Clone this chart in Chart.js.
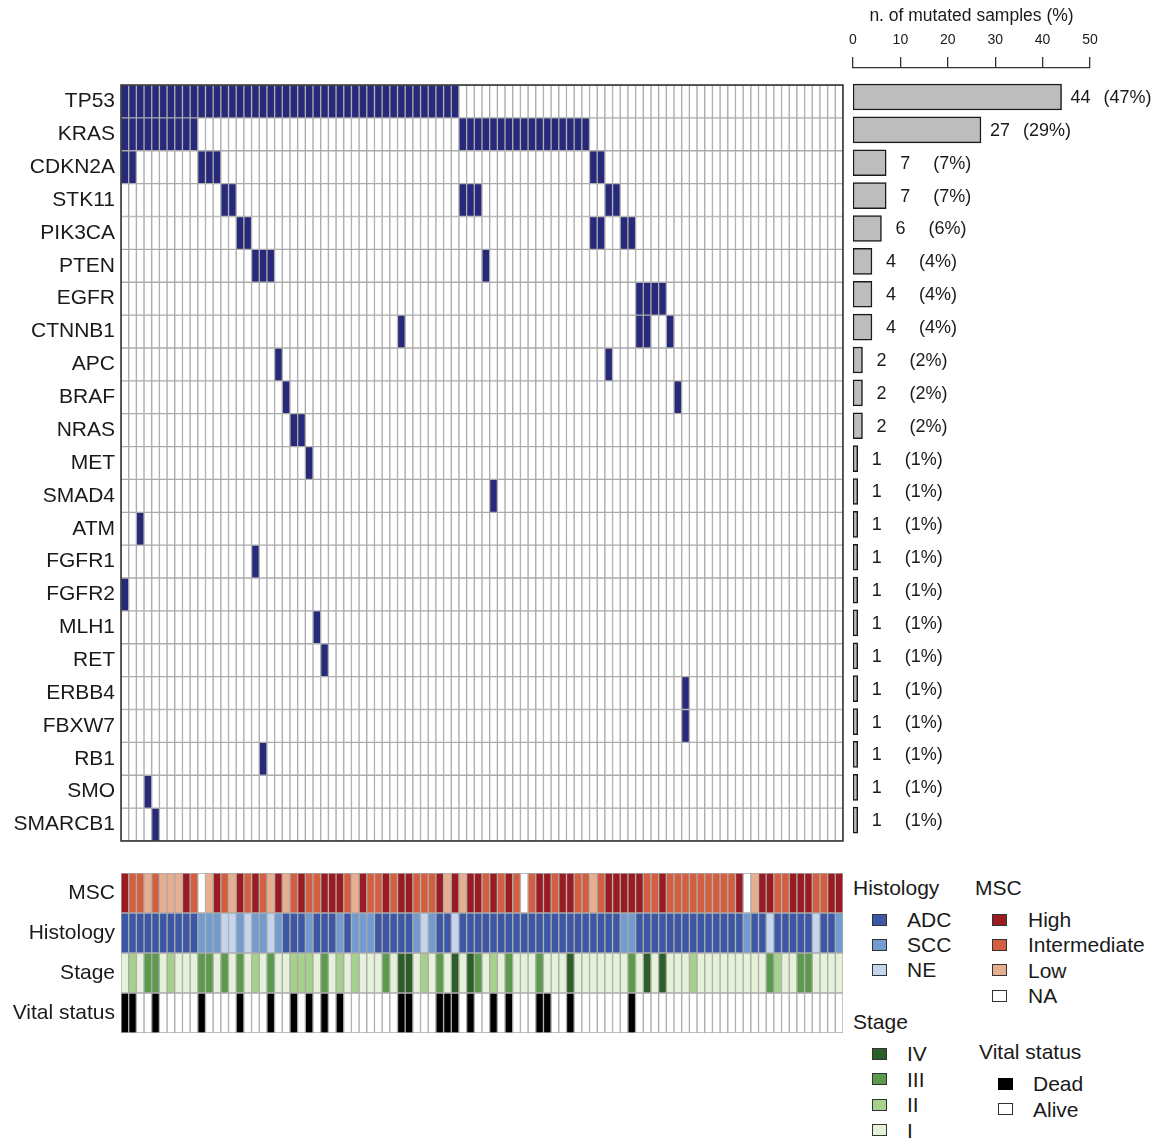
<!DOCTYPE html>
<html>
<head>
<meta charset="utf-8">
<script src="https://cdn.jsdelivr.net/npm/chart.js@4.4.1/dist/chart.umd.min.js"></script>
<style>
  html, body { margin: 0; padding: 0; background: #fff; }
  #page { position: relative; width: 1160px; height: 1140px; overflow: hidden;
          font-family: 'Liberation Sans', Arial, sans-serif; color: #1a1a1a; }
  canvas { position: absolute; }
  .lg-title, .lg-text { position: absolute; font-size: 21px; line-height: 24px; white-space: nowrap; }
  .lg-box { position: absolute; width: 13px; height: 10px; border: 1.5px solid #333; }
</style>
</head>
<body>
<div id="page">
  <canvas id="matrix" width="848" height="766" style="left:0;top:80px"></canvas>
  <canvas id="freqAxis" width="314" height="72" style="left:846px;top:0"></canvas>
  <canvas id="freq" width="314" height="780" style="left:846px;top:70px"></canvas>
  <canvas id="tracks" width="848" height="180" style="left:0;top:860px"></canvas>
  <div id="legend"></div>
</div>
<script>
// ---- data ----
const nSamples = 94;

const genes = ["TP53", "KRAS", "CDKN2A", "STK11", "PIK3CA", "PTEN", "EGFR", "CTNNB1", "APC",
  "BRAF", "NRAS", "MET", "SMAD4", "ATM", "FGFR1", "FGFR2", "MLH1", "RET", "ERBB4", "FBXW7",
  "RB1", "SMO", "SMARCB1"];
const mutatedCounts = [44, 27, 7, 7, 6, 4, 4, 4, 2, 2, 2, 1, 1, 1, 1, 1, 1, 1, 1, 1, 1, 1, 1];
const mutatedPct = [47, 29, 7, 7, 6, 4, 4, 4, 2, 2, 2, 1, 1, 1, 1, 1, 1, 1, 1, 1, 1, 1, 1];

// mutated sample columns (0-based, left to right) for each gene
const mutTP53 = [0, 1, 2, 3, 4, 5, 6, 7, 8, 9, 10, 11, 12, 13, 14, 15, 16, 17, 18, 19, 20, 21,
  22, 23, 24, 25, 26, 27, 28, 29, 30, 31, 32, 33, 34, 35, 36, 37, 38, 39, 40, 41, 42, 43];
const mutKRAS = [0, 1, 2, 3, 4, 5, 6, 7, 8, 9, 44, 45, 46, 47, 48, 49, 50, 51, 52, 53, 54, 55,
  56, 57, 58, 59, 60];
const mutCDKN2A = [0, 1, 10, 11, 12, 61, 62];
const mutSTK11 = [13, 14, 44, 45, 46, 63, 64];
const mutPIK3CA = [15, 16, 61, 62, 65, 66];
const mutPTEN = [17, 18, 19, 47];
const mutEGFR = [67, 68, 69, 70];
const mutCTNNB1 = [36, 67, 68, 71];
const mutAPC = [20, 63];
const mutBRAF = [21, 72];
const mutNRAS = [22, 23];
const mutMET = [24];
const mutSMAD4 = [48];
const mutATM = [2];
const mutFGFR1 = [17];
const mutFGFR2 = [0];
const mutMLH1 = [25];
const mutRET = [26];
const mutERBB4 = [73];
const mutFBXW7 = [73];
const mutRB1 = [18];
const mutSMO = [3];
const mutSMARCB1 = [4];

const mutationRows = [mutTP53, mutKRAS, mutCDKN2A, mutSTK11, mutPIK3CA, mutPTEN, mutEGFR,
  mutCTNNB1, mutAPC, mutBRAF, mutNRAS, mutMET, mutSMAD4, mutATM, mutFGFR1, mutFGFR2, mutMLH1,
  mutRET, mutERBB4, mutFBXW7, mutRB1, mutSMO, mutSMARCB1];

// annotation tracks, one code per sample
const trackNames = ["MSC", "Histology", "Stage", "Vital status"];
const msc = [
  "H", "I", "I", "L", "I", "L", "L", "L", "H", "I",
  "NA", "L", "H", "I", "L", "H", "I", "H", "I", "L",
  "H", "L", "I", "H", "I", "I", "H", "H", "H", "I",
  "L", "H", "I", "I", "H", "I", "H", "H", "I", "I",
  "I", "H", "L", "H", "L", "H", "H", "I", "H", "I",
  "H", "I", "NA", "I", "H", "H", "I", "H", "H", "I",
  "I", "L", "I", "H", "H", "H", "H", "H", "I", "I",
  "H", "I", "I", "I", "I", "I", "I", "I", "I", "I",
  "H", "NA", "L", "H", "H", "I", "I", "H", "H", "H",
  "I", "I", "H", "H"];
const histology = [
  "ADC", "ADC", "ADC", "ADC", "ADC", "ADC", "ADC", "ADC", "ADC", "ADC",
  "SCC", "SCC", "SCC", "NE", "NE", "SCC", "NE", "SCC", "SCC", "NE",
  "SCC", "ADC", "ADC", "ADC", "SCC", "ADC", "ADC", "ADC", "SCC", "ADC",
  "SCC", "SCC", "SCC", "ADC", "ADC", "ADC", "ADC", "ADC", "SCC", "NE",
  "SCC", "ADC", "ADC", "NE", "ADC", "ADC", "ADC", "ADC", "ADC", "ADC",
  "ADC", "ADC", "ADC", "ADC", "ADC", "ADC", "ADC", "ADC", "ADC", "ADC",
  "ADC", "ADC", "ADC", "ADC", "ADC", "SCC", "SCC", "ADC", "ADC", "ADC",
  "ADC", "ADC", "ADC", "ADC", "ADC", "ADC", "ADC", "ADC", "ADC", "ADC",
  "ADC", "SCC", "ADC", "ADC", "NE", "ADC", "ADC", "ADC", "ADC", "ADC",
  "NE", "ADC", "ADC", "SCC"];
const stage = [
  "I", "II", "I", "III", "III", "I", "II", "I", "I", "I",
  "III", "III", "I", "III", "I", "III", "I", "II", "I", "III",
  "I", "I", "II", "II", "II", "I", "III", "I", "II", "I",
  "II", "I", "I", "I", "III", "I", "IV", "IV", "I", "II",
  "I", "III", "I", "IV", "I", "IV", "III", "I", "II", "I",
  "III", "I", "I", "I", "III", "I", "I", "I", "IV", "I",
  "I", "I", "I", "I", "I", "I", "III", "I", "IV", "I",
  "IV", "I", "I", "I", "II", "I", "I", "I", "I", "I",
  "I", "I", "I", "I", "III", "II", "I", "I", "III", "III",
  "I", "I", "I", "I"];
const vital = [
  "D", "D", "A", "A", "D", "A", "A", "A", "A", "A",
  "D", "A", "A", "A", "A", "D", "A", "A", "A", "D",
  "A", "A", "D", "A", "D", "A", "D", "A", "D", "A",
  "A", "A", "A", "A", "A", "A", "D", "D", "A", "A",
  "A", "D", "D", "D", "A", "D", "A", "A", "D", "A",
  "D", "A", "A", "A", "D", "D", "A", "A", "D", "A",
  "A", "A", "A", "A", "A", "A", "D", "A", "A", "A",
  "A", "A", "A", "A", "A", "A", "A", "A", "A", "A",
  "A", "A", "A", "A", "A", "A", "A", "A", "A", "A",
  "A", "A", "A", "A"];

const freqTicks = [0, 10, 20, 30, 40, 50];

// ---- styling ----
const fontStack = "'Liberation Sans', Arial, sans-serif";
Chart.defaults.font.family = fontStack;
Chart.defaults.color = "#1a1a1a";

const MUT_COLOR = "#27297a";
const GRID_COLOR = "#ababab";

const mscLegend = [["H", "High", "#9b1b22"], ["I", "Intermediate", "#d45e40"],
  ["L", "Low", "#e8ae90"], ["NA", "NA", "#ffffff"]];
const histLegend = [["ADC", "ADC", "#3b57a5"], ["SCC", "SCC", "#729bcf"], ["NE", "NE", "#c6d5ee"]];
const stageLegend = [["IV", "IV", "#2c5e27"], ["III", "III", "#5c9b4e"],
  ["II", "II", "#a5d18c"], ["I", "I", "#e5f2d9"]];
const vitalLegend = [["D", "Dead", "#000000"], ["A", "Alive", "#ffffff"]];

const colorOf = (legend) => Object.fromEntries(legend.map((l) => [l[0], l[2]]));

const sampleIds = Array.from({ length: nSamples }, (_, i) => "S" + (i + 1));

// dark frame around the mutation matrix
const framePlugin = {
  id: "frame",
  afterDraw(chart) {
    const { ctx, chartArea: a } = chart;
    ctx.save();
    ctx.strokeStyle = "#2a2a2a";
    ctx.lineWidth = 1.5;
    ctx.strokeRect(a.left, a.top, a.right - a.left, a.bottom - a.top);
    ctx.restore();
  },
};

function rowAxis(names, size) {
  return {
    stacked: true,
    min: 0,
    max: names.length,
    reverse: true,
    afterBuildTicks: (scale) => { scale.ticks = names.map((n, i) => ({ value: i + 0.5 })); },
    afterFit: (scale) => {
      scale.width = 121;
      // labels sit inside the rows, no extra room needed above/below
      scale.paddingTop = 0;
      scale.paddingBottom = 0;
    },
    ticks: { callback: (v, i) => names[i], autoSkip: false, font: { size: size }, color: "#1a1a1a", padding: 6 },
    grid: { display: false, drawTicks: false },
    border: { display: false },
  };
}

function cellDataset(label, colors) {
  return {
    label: label,
    data: sampleIds.map(() => 1),
    backgroundColor: colors,
    borderColor: GRID_COLOR,
    borderWidth: 1,
    borderSkipped: false,
    barPercentage: 1,
    categoryPercentage: 1,
  };
}

// ---- mutation matrix ----
new Chart(document.getElementById("matrix"), {
  type: "bar",
  data: {
    labels: sampleIds,
    datasets: genes.map((g, gi) =>
      cellDataset(g, sampleIds.map((_, si) => (mutationRows[gi].includes(si) ? MUT_COLOR : "#ffffff")))),
  },
  options: {
    responsive: false,
    animation: false,
    layout: { padding: { top: 5, right: 5, bottom: 5, left: 0 } },
    plugins: { legend: { display: false }, tooltip: { enabled: false } },
    scales: {
      x: { stacked: true, display: false },
      y: rowAxis(genes, 21),
    },
  },
  plugins: [framePlugin],
});

// ---- annotation tracks ----
const trackValues = [msc, histology, stage, vital];
const trackColors = [colorOf(mscLegend), colorOf(histLegend), colorOf(stageLegend), colorOf(vitalLegend)];

new Chart(document.getElementById("tracks"), {
  type: "bar",
  data: {
    labels: sampleIds,
    datasets: trackNames.map((t, ti) => cellDataset(t, trackValues[ti].map((v) => trackColors[ti][v]))),
  },
  options: {
    responsive: false,
    animation: false,
    layout: { padding: { top: 13, right: 5, bottom: 7, left: 0 } },
    plugins: { legend: { display: false }, tooltip: { enabled: false } },
    scales: {
      x: { stacked: true, display: false },
      y: rowAxis(trackNames, 21),
    },
  },
});

// ---- mutation frequency: top axis ----
const freqX = {
  type: "linear",
  offset: false,
  min: freqTicks[0],
  max: freqTicks[freqTicks.length - 1],
};

new Chart(document.getElementById("freqAxis"), {
  type: "scatter",
  data: { datasets: [{ data: [] }] },
  options: {
    responsive: false,
    animation: false,
    layout: { padding: { top: 0, left: 7, right: 70, bottom: 2 } },
    plugins: {
      legend: { display: false },
      tooltip: { enabled: false },
      title: {
        display: true,
        text: "n. of mutated samples (%)",
        font: { size: 17.5, weight: "normal" },
        color: "#1a1a1a",
        padding: { top: 6, bottom: 3 },
      },
    },
    scales: {
      x: {
        ...freqX,
        position: "top",
        afterBuildTicks: (scale) => { scale.ticks = freqTicks.map((v) => ({ value: v })); },
        afterFit: (scale) => {
          scale.height = 68 - 30;
          scale.paddingLeft = 0;
          scale.paddingRight = 0;
        },
        ticks: { font: { size: 14 }, color: "#1a1a1a", padding: 8 },
        grid: { offset: false, drawOnChartArea: false, drawTicks: true, tickLength: 11, color: "#333", lineWidth: 1.3 },
        border: { display: true, color: "#333", width: 1.3 },
      },
      y: { display: false },
    },
  },
});

// ---- mutation frequency: bars ----
const barLabelPlugin = {
  id: "barLabels",
  afterDatasetsDraw(chart) {
    const { ctx } = chart;
    const meta = chart.getDatasetMeta(0);
    ctx.save();
    ctx.font = "18px " + fontStack;
    ctx.fillStyle = "#1a1a1a";
    ctx.textAlign = "center";
    ctx.textBaseline = "middle";
    meta.data.forEach((bar, i) => {
      ctx.fillText(String(mutatedCounts[i]), bar.x + 19, bar.y + 1);
      ctx.fillText("(" + mutatedPct[i] + "%)", bar.x + 66, bar.y + 1);
    });
    ctx.restore();
  },
};

new Chart(document.getElementById("freq"), {
  type: "bar",
  data: {
    labels: genes,
    datasets: [{
      data: mutatedCounts,
      backgroundColor: "#bdbdbd",
      borderColor: "#1a1a1a",
      borderWidth: 1.5,
      borderSkipped: false,
      barThickness: 26,
    }],
  },
  options: {
    responsive: false,
    animation: false,
    indexAxis: "y",
    layout: { padding: { top: 10.6, left: 7, right: 70, bottom: 13.4 } },
    plugins: { legend: { display: false }, tooltip: { enabled: false } },
    scales: {
      x: { ...freqX, display: false },
      y: { type: "category", offset: true, display: false },
    },
  },
  plugins: [barLabelPlugin],
});

// ---- legends ----
const legendRoot = document.getElementById("legend");
function addLegend(title, titleX, titleY, boxX, textX, firstY, step, items) {
  const t = document.createElement("div");
  t.className = "lg-title";
  t.textContent = title;
  t.style.left = titleX + "px";
  t.style.top = (titleY - 12) + "px";
  legendRoot.appendChild(t);
  items.forEach((it, i) => {
    const cy = firstY + i * step;
    const b = document.createElement("div");
    b.className = "lg-box";
    b.style.left = boxX + "px";
    b.style.top = (cy - 6.5) + "px";
    b.style.background = it[2];
    if (it[2] === "#000000") b.style.borderColor = "#000";
    legendRoot.appendChild(b);
    const s = document.createElement("div");
    s.className = "lg-text";
    s.textContent = it[1];
    s.style.left = textX + "px";
    s.style.top = (cy - 12) + "px";
    legendRoot.appendChild(s);
  });
}
addLegend("Histology", 853, 888, 872, 907, 920, 25.2, histLegend);
addLegend("MSC", 975, 888, 992, 1028, 920, 25.4, mscLegend);
addLegend("Stage", 853, 1022, 872, 907, 1054, 25.5, stageLegend);
addLegend("Vital status", 979, 1052, 998, 1033, 1084, 25.5, vitalLegend);
</script>
</body>
</html>
